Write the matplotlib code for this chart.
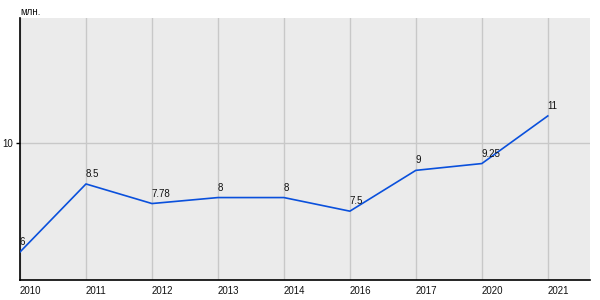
import matplotlib
matplotlib.use("Agg")
import matplotlib.pyplot as plt

years = ["2010", "2011", "2012", "2013", "2014", "2016", "2017", "2020", "2021"]
values = [6, 8.5, 7.78, 8, 8, 7.5, 9, 9.25, 11]
labels = ["6", "8.5", "7.78", "8", "8", "7.5", "9", "9.25", "11"]

plt.rcParams['font.family'] = ['Liberation Sans', 'DejaVu Sans']

fig = plt.figure(figsize=(6, 3), dpi=100)
ax = fig.add_axes([20/600, 20/300, 570/600, 262/300])
ax.set_facecolor('#ebebeb')

x = list(range(len(years)))
ax.plot(x, values, color='#0a50dc', lw=1.2, zorder=3)
for xi, v, lab in zip(x, values, labels):
    ax.annotate(lab, (xi, v), xytext=(0, 3.5), textcoords='offset points',
                ha='left', va='bottom', fontsize=7, color='#111111', zorder=4)

ax.set_xlim(0, 8.64)
ax.set_ylim(4.97, 14.6)
ax.set_xticks(x)
ax.set_xticklabels(years, ha='left', fontsize=7, color='#111111')
ax.set_yticks([10])
ax.set_yticklabels(["10"], fontsize=7, color='#111111')
ax.grid(True, color='#c8c8c8', lw=1, zorder=0)
ax.set_axisbelow(True)
ax.tick_params(axis='x', length=0, pad=4)
ax.tick_params(axis='y', length=3, pad=2, width=1, color='black')
for s in ['top', 'right']:
    ax.spines[s].set_visible(False)
ax.spines['left'].set_color('black')
ax.spines['bottom'].set_color('black')
ax.spines['left'].set_linewidth(1.2)
ax.spines['bottom'].set_linewidth(1.2)

fig.text(20/600, 1 - 12/300, "млн.", fontsize=7, color='#111111', va='center', ha='left')

fig.savefig("out.png", dpi=100, facecolor='white')
